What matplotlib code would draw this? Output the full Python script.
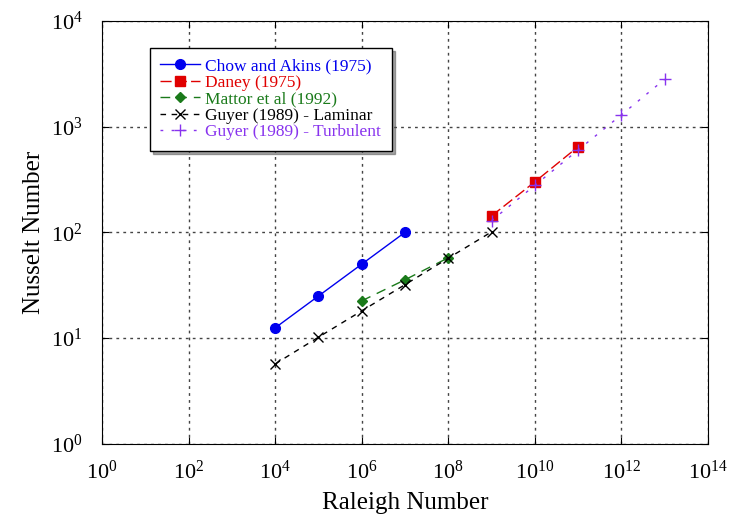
import numpy as np
from matplotlib import pyplot as plt

plt.rcParams['font.family'] = ['Liberation Serif', 'DejaVu Serif']
plt.rcParams['mathtext.fontset'] = 'stix'

# data
ra_chow = [1e4, 1e5, 1e6, 1e7]
nu_chow = [12.5, 25, 50, 100]
ra_daney = [1e9, 1e10, 1e11]
nu_daney = [143, 300, 645]
ra_mattor = [1e6, 1e7, 1e8]
nu_mattor = [22.5, 35.6, 57.5]
ra_lam = [1e4, 1e5, 1e6, 1e7, 1e8, 1e9]
nu_lam = [5.7, 10.2, 18.1, 32, 57, 101]
ra_turb = [1e9, 1e10, 1e11, 1e12, 1e13]
nu_turb = [129, 278, 600, 1290, 2800]

fig = plt.figure(figsize=(7.29, 5.21), dpi=100)
ax = fig.add_axes([0.14, 0.148, 0.831, 0.812])

ax.plot(ra_chow, nu_chow, '-o', color='#0000ee', lw=1, ms=7,
        label='Chow and Akins (1975)')
ax.plot(ra_daney, nu_daney, '-s', color='#e00000', lw=1, ms=7,
        dashes=(8, 3), label='Daney (1975)')
ax.plot(ra_mattor, nu_mattor, '-D', color='#1a7a1a', lw=1, ms=5,
        dashes=(7, 5), label='Mattor et al (1992)')
ax.plot(ra_lam, nu_lam, '--x', color='black', lw=1, ms=7, mew=1,
        dashes=(4, 4), label='Guyer (1989) - Laminar')
ax.plot(ra_turb, nu_turb, '+', color='#8833ee', ls=(0, (2, 6)), lw=1,
        ms=9, mew=1, label='Guyer (1989) - Turbulent')

ax.set_xscale('log')
ax.set_yscale('log')
ax.set_xlim(1e0, 1e14)
ax.set_ylim(1e0, 1e4)
ax.set_xticks([10.0**k for k in range(0, 15, 2)])
ax.set_yticks([10.0**k for k in range(0, 5)])
ax.minorticks_off()
ax.tick_params(direction='in', top=True, right=True, labelsize=16,
               length=5)
ax.tick_params(axis='x', pad=12)
ax.tick_params(axis='y', pad=14)
ax.grid(True, color='#444444', ls=(0, (2, 3)), lw=1)

ax.set_xlabel('Raleigh Number', fontsize=18, labelpad=6)
ax.set_ylabel('Nusselt Number', fontsize=18, labelpad=4)

leg = ax.legend(loc='upper left', bbox_to_anchor=(0.079, 0.936),
                borderaxespad=0, fontsize=12.5, shadow=True, fancybox=False,
                framealpha=1, edgecolor='black', handlelength=2.3,
                labelspacing=0.02, borderpad=0.6, handletextpad=0.3)
for txt, ln in zip(leg.get_texts(), leg.get_lines()):
    txt.set_color(ln.get_color())

fig.savefig('out.png', dpi=100)
